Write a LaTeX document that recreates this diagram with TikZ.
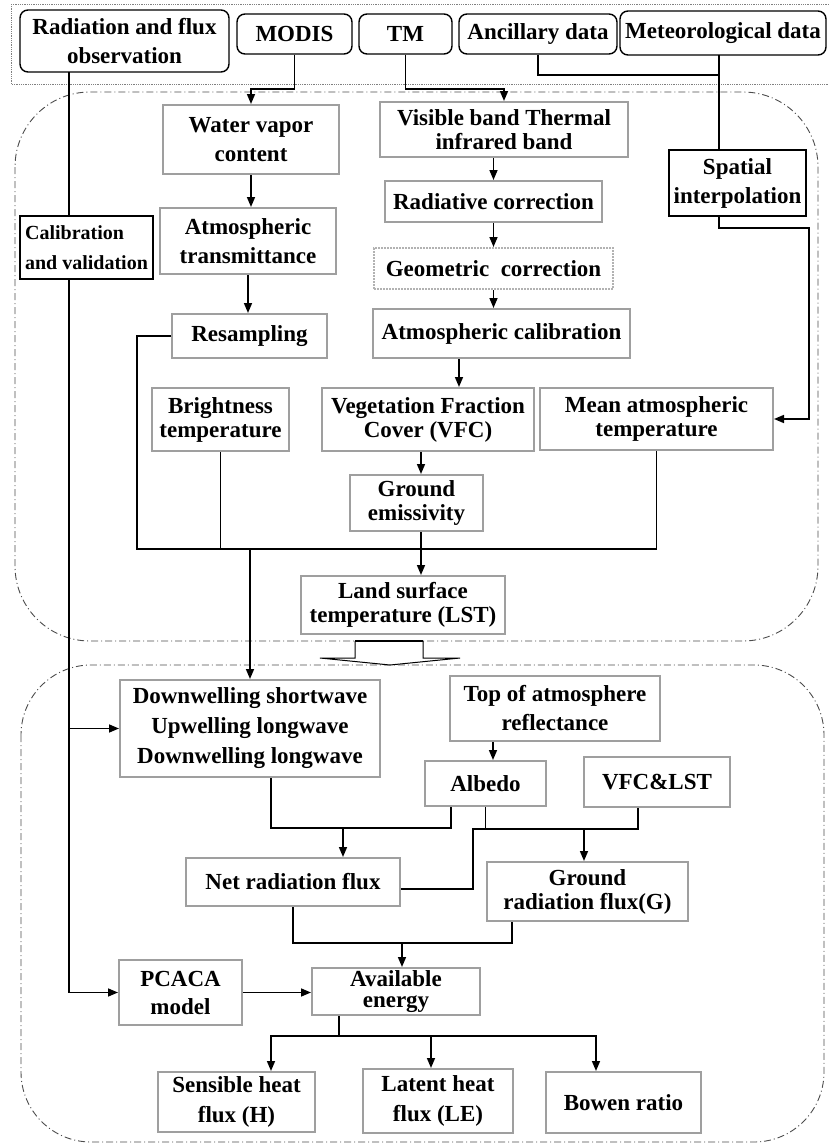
\documentclass[tikz,border=0pt]{standalone}
\usepackage{fontspec}
\setmainfont{Liberation Serif}
\usetikzlibrary{calc,positioning,arrows.meta}

\begin{document}
\begin{tikzpicture}[
x=1pt,y=-1pt,
>={Triangle[length=10pt,width=8pt]},
txt/.style={
	font=\bfseries\fontsize{23}{29}\selectfont,
	align=center,
	inner sep=2pt
},
tight/.style={
	font=\bfseries\fontsize{23}{24}\selectfont
},
src/.style={
	txt,
	draw,
	rounded corners=8pt,
	line width=1.4pt
},
gbox/.style={
	txt,
	draw=gray!75,
	line width=2pt
},
bbox/.style={
	txt,
	draw,
	line width=1.6pt
},
arr/.style={
	->,
	line width=1.6pt
},
link/.style={
	line width=1.6pt
},
region/.style={
	draw=black!70,
	line width=0.9pt,
	dash pattern=on 7pt off 3pt on 1pt off 3pt
}
]
\useasboundingbox (0,0) rectangle (829,1143);

% frames
\draw[gray, densely dotted, line width=0.8pt] (11,4) rectangle (835,84);
\draw[region, rounded corners=75] (15,92) rectangle (818,641);
\draw[region, rounded corners=70] (21,665) rectangle (824,1142);

% data sources
\node[src, minimum width=209, minimum height=62] (rad) at (124.5,41) {Radiation and flux\\observation};
\node[src, minimum width=115, minimum height=40] (modis) at (294.5,34) {MODIS};
\node[src, minimum width=93, minimum height=40] (tm) at (405.5,34) {TM};
\node[src, minimum width=158, minimum height=40] (anc) at (538,34) {Ancillary data};
\node[src, minimum width=206, minimum height=44] (met) at (723,33) {Meteorological data};

% LST retrieval
\node[gbox, minimum width=176, minimum height=69] (wv) at (251,139.5) {Water vapor\\content};
\node[gbox, minimum width=176, minimum height=66] (atr) at (248,241) {Atmospheric\\transmittance};
\node[gbox, minimum width=155, minimum height=44] (res) at (249.5,336) {Resampling};
\node[gbox, tight, minimum width=248, minimum height=55] (vis) at (504,129.5) {Visible band Thermal\\infrared band};
\node[gbox, minimum width=217, minimum height=41] (radc) at (493.5,201.5) {Radiative correction};
\node[gbox, draw=gray!60, densely dotted, minimum width=239, minimum height=41] (geo) at (493.5,268.5) {Geometric~ correction};
\node[gbox, minimum width=257, minimum height=49] (atc) at (501.5,333.5) {Atmospheric calibration};
\node[bbox, minimum width=137, minimum height=66] (spa) at (737.5,183) {Spatial\\interpolation};
\node[bbox, font=\bfseries\fontsize{20}{30}\selectfont, align=left, minimum width=133, minimum height=63] (cal) at (86.5,247.5) {Calibration\\and validation};

\node[gbox, tight, minimum width=137, minimum height=63] (bri) at (220.5,419.5) {Brightness\\temperature};
\node[gbox, tight, minimum width=212, minimum height=63] (vfc) at (428,419.5) {Vegetation Fraction\\Cover (VFC)};
\node[gbox, tight, minimum width=233, minimum height=62] (mat) at (656.5,419) {Mean atmospheric\\temperature};
\node[gbox, tight, minimum width=133, minimum height=56] (gem) at (416.5,503) {Ground\\emissivity};
\node[gbox, tight, minimum width=204, minimum height=58] (lst) at (403,605) {Land surface\\temperature (LST)};

% energy balance
\node[gbox, font=\bfseries\fontsize{23}{30}\selectfont, minimum width=260, minimum height=97] (dwl) at (250,728.5) {Downwelling shortwave\\Upwelling longwave\\Downwelling longwave};
\node[gbox, minimum width=210, minimum height=65] (toa) at (555,708.5) {Top of atmosphere\\reflectance};
\node[gbox, minimum width=121, minimum height=45] (alb) at (485.5,783.5) {Albedo};
\node[gbox, minimum width=146, minimum height=50] (vl) at (657,782) {VFC\&LST};
\node[gbox, minimum width=214, minimum height=48] (net) at (293,882) {Net radiation flux};
\node[gbox, tight, minimum width=201, minimum height=59] (grf) at (587.5,891.5) {Ground\\radiation flux(G)};
\node[gbox, font=\bfseries\fontsize{23}{28}\selectfont, minimum width=123, minimum height=65] (pca) at (180.5,992.5) {PCACA\\model};
\node[gbox, font=\bfseries\fontsize{23}{21}\selectfont, minimum width=168, minimum height=47] (ava) at (396,991.5) {Available\\energy};
\node[gbox, font=\bfseries\fontsize{23}{30}\selectfont, minimum width=157, minimum height=60] (sen) at (236.5,1102) {Sensible heat\\flux (H)};
\node[gbox, font=\bfseries\fontsize{23}{30}\selectfont, minimum width=150, minimum height=64] (lat) at (438,1101) {Latent heat\\flux (LE)};
\node[gbox, minimum width=155, minimum height=61] (bow) at (623.5,1102.5) {Bowen ratio};

% junctions
\coordinate (vtop) at (69,72);
\coordinate (mtop) at (719,55);
\coordinate (lj) at (250,549);
\coordinate (nj) at (343,828);
\coordinate (gj) at (584,829);
\coordinate (aj) at (402,943);
\coordinate (bj) at (339,1036);

% upper part
\draw[arr] (modis.south) -- ++(0,34) -| (wv.north);
\draw[arr] (tm.south) -- ++(0,34) -| (vis.north);
\draw[link] (anc.south) -- ++(0,20) -| (mtop);
\draw[link] (mtop) -- (mtop |- spa.north);
\draw[arr] (mtop |- spa.south) -- ++(0,11) -| ($(mat.east)+(35,0)$) -- (mat.east);
\draw[arr] (wv.south) -- (wv.south |- atr.north);
\draw[arr] (atr.south) -- (atr.south |- res.north);
\draw[arr] (radc.north |- vis.south) -- (radc.north);
\draw[arr] (radc.south) -- (radc.south |- geo.north);
\draw[arr] (geo.south) -- (geo.south |- atc.north);
\draw[arr] (atc.south -| 459,0) -- (vfc.north -| 459,0);
\draw[arr] (vfc.south -| 421,0) -- (gem.north -| 421,0);
\draw[arr] (gem.south -| 421,0) -- (lst.north -| 421,0);
\draw[link] (res.west) -- ++(-34,0) |- (lj) -| (mat.south);
\draw[link] (bri.south) -- (bri.south |- lj);
\draw[arr] (lj) -- (dwl.north);

% calibration line
\draw[link] (vtop) -- (vtop |- cal.north);
\draw[link] (vtop |- cal.south) -- (vtop |- pca.west);
\draw[arr] (vtop |- dwl.west) -- (dwl.west);
\draw[arr] (vtop |- pca.west) -- (pca.west);

% hollow arrow
\draw[line width=1pt, fill=white] (355,641) -- (355,658) -- (320,658) -- (390,665) -- (460,658) -- (423,658) -- (423,641);
\draw[line width=2.5pt] (355,641) -- (423,641);

% lower part
\draw[link] (dwl.south -| 271,0) |- (nj) -| (alb.south -| 451,0);
\draw[arr] (nj) -- (nj |- net.north);
\draw[arr] (toa.south -| 493,0) -- (alb.north -| 493,0);
\draw[link] (alb.south) -- (alb.south |- gj);
\draw[link] (net.east |- 0,889) -| (473,829) -- (gj) -| (vl.south -| 638,0);
\draw[arr] (gj) -- (gj |- grf.north);
\draw[link] (net.south) |- (aj) -| (grf.south -| 512,0);
\draw[arr] (aj) -- (aj |- ava.north);
\draw[arr] (pca.east) -- (pca.east -| ava.west);
\draw[link] (ava.south -| bj) -- (bj);
\foreach \n/\x in {sen/271,lat/431,bow/596}
\draw[arr] (bj) -| (\n.north -| \x,0);
\end{tikzpicture}
\end{document}
